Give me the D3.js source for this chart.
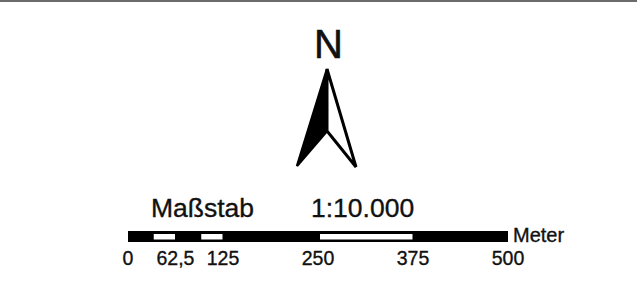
<!DOCTYPE html>
<html>
<head>
<meta charset="utf-8">
<script src="https://cdn.jsdelivr.net/npm/d3@7"></script>
<style>
  html, body { margin: 0; padding: 0; background: #fff; }
  svg { display: block; font-family: "Liberation Sans", Arial, sans-serif; }
  svg text { fill: #111; stroke: #111; stroke-width: 0.35px; }
</style>
</head>
<body>
<div id="chart"></div>
<script>
// scale bar data
const tickValues = [0, 62.5, 125, 250, 375, 500]
const tickLabels = ['0', '62,5', '125', '250', '375', '500']
const segmentBreaks = [0, 31.25, 62.5, 93.75, 125, 250, 375, 500]
const unitLabel = 'Meter'
const titleLabel = 'Maßstab'
const ratioLabel = '1:10.000'
const northLabel = 'N'

const w = 637, h = 293

const svg = d3.select('#chart')
  .append('svg')
  .attr('width', w)
  .attr('height', h)

// frame line at top
svg.append('line')
  .attr('x1', 0).attr('x2', w)
  .attr('y1', 1).attr('y2', 1)
  .attr('stroke', '#3a3a3a')
  .attr('stroke-width', 1.5)

// north arrow
const north = svg.append('g').attr('transform', 'translate(327,0)')

north.append('text')
  .attr('x', 1.5)
  .attr('y', 58)
  .attr('text-anchor', 'middle')
  .style('font-size', '40px')
  .style('stroke-width', '0.6px')
  .text(northLabel)

// left half filled, right half outlined
north.append('path')
  .attr('d', 'M0,69 L-30,166 L0,131 Z')
  .attr('fill', '#000')
  .attr('stroke', '#000')
  .attr('stroke-width', 2.5)
  .attr('stroke-linejoin', 'miter')

north.append('path')
  .attr('d', 'M0,69 L29,167 L0,131 Z')
  .attr('fill', '#fff')
  .attr('stroke', '#000')
  .attr('stroke-width', 3)
  .attr('stroke-linejoin', 'miter')

// scale bar
const x = d3.scaleLinear()
  .domain([0, 500])
  .range([128, 508])

const barTop = 231, barH = 11

svg.append('text')
  .attr('x', 151)
  .attr('y', 217)
  .style('font-size', '26.5px')
  .text(titleLabel)

svg.append('text')
  .attr('x', 311)
  .attr('y', 217)
  .style('font-size', '26.5px')
  .text(ratioLabel)

svg.append('rect')
  .attr('x', x(0))
  .attr('y', barTop)
  .attr('width', x(500) - x(0))
  .attr('height', barH)
  .attr('fill', '#000')

const segs = d3.pairs(segmentBreaks).filter((d, i) => i % 2 === 1)

svg.selectAll('.seg')
  .data(segs)
  .enter()
  .append('rect')
  .attr('class', 'seg')
  .attr('x', d => x(d[0]) + 2)
  .attr('y', barTop + 3)
  .attr('width', d => x(d[1]) - x(d[0]) - 2.5)
  .attr('height', 5.5)
  .attr('fill', '#fff')

svg.selectAll('.tick')
  .data(tickValues)
  .enter()
  .append('text')
  .attr('class', 'tick')
  .attr('x', d => x(d))
  .attr('y', 265)
  .attr('text-anchor', 'middle')
  .style('font-size', '19.5px')
  .text((d, i) => tickLabels[i])

svg.append('text')
  .attr('x', 513)
  .attr('y', 242)
  .style('font-size', '20px')
  .text(unitLabel)
</script>
</body>
</html>
